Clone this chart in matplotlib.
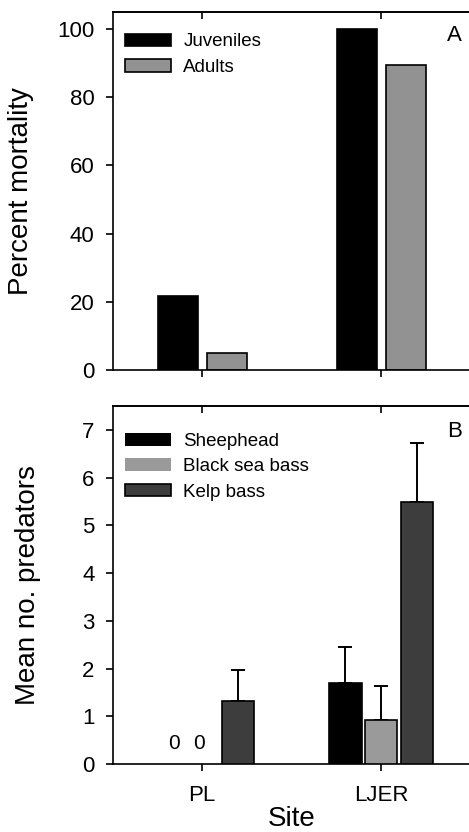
import matplotlib
matplotlib.use("Agg")
import matplotlib.pyplot as plt
import numpy as np

plt.rcParams['font.family'] = ['Liberation Sans', 'DejaVu Sans']

sites = ["PL", "LJER"]

# panel A
stages = ["Juveniles", "Adults"]
mortality = [[21.7, 100.0], [5.0, 89.4]]

# panel B
predators = ["Sheephead", "Black sea bass", "Kelp bass"]
pred_mean = [[0.0, 1.70], [0.0, 0.92], [1.32, 5.49]]
pred_se = [[0.0, 0.75], [0.0, 0.71], [0.65, 1.24]]

colors_a = ["#000000", "#929292"]
colors_b = ["#000000", "#9a9a9a", "#3d3d3d"]


def style_axes(ax, yticks):
    for s in ax.spines.values():
        s.set_linewidth(1.2)
    ax.set_xlim(-0.5, 1.5)
    ax.set_xticks(range(len(sites)))
    ax.set_yticks(yticks)
    ax.tick_params(axis='both', direction='out', length=5, width=1.2, labelsize=16)
    ax.tick_params(axis='y', pad=8)
    top = ax.secondary_xaxis('top')
    top.set_xticks(range(len(sites)))
    top.tick_params(direction='in', length=5, width=1.2, labeltop=False)
    top.spines['top'].set_linewidth(1.2)


def legend(ax, y):
    ax.legend(loc='upper left', bbox_to_anchor=(0.035, y), frameon=False, fontsize=13.5,
              handlelength=2.45, handleheight=0.65, handletextpad=0.65, labelspacing=0.45,
              borderpad=0, borderaxespad=0)


fig = plt.figure(figsize=(4.69, 8.32), dpi=100)
ax1 = fig.add_axes([0.24, 0.5553, 0.764, 0.4303])
ax2 = fig.add_axes([0.24, 0.0817, 0.764, 0.4303])

x = np.arange(len(sites))

# --- panel A
w = 0.224
offs = [-0.137, 0.137]
for i, lab in enumerate(stages):
    ax1.bar(x + offs[i], mortality[i], w, color=colors_a[i], edgecolor='black',
            linewidth=1.2, label=lab)
ax1.set_ylim(0, 105)
style_axes(ax1, [0, 20, 40, 60, 80, 100])
ax1.set_xticklabels([])
ax1.set_ylabel("Percent mortality", fontsize=20)
ax1.yaxis.set_label_coords(-0.218, 0.5)
ax1.text(0.934, 0.964, "A", transform=ax1.transAxes, fontsize=16, va='top', ha='left')
legend(ax1, 0.94)

# --- panel B
w = 0.18
offs = [-0.2, 0.0, 0.2]
zero_nudge = [0.045, -0.017, 0.0]
for i, lab in enumerate(predators):
    lw = [1.2 if v > 0 else 0 for v in pred_mean[i]]
    ax2.bar(x + offs[i], pred_mean[i], w, color=colors_b[i], edgecolor='black',
            linewidth=lw, label=lab, zorder=3)
    for j in range(len(sites)):
        if pred_se[i][j] > 0:
            ax2.errorbar(x[j] + offs[i], pred_mean[i][j], yerr=[[0], [pred_se[i][j]]],
                         fmt='none', ecolor='black', elinewidth=1.4, capsize=5,
                         capthick=1.4, zorder=2)
        else:
            ax2.text(x[j] + offs[i] + zero_nudge[i], 0.44, "0", fontsize=15,
                     ha='center', va='center')
ax2.set_ylim(0, 7.5)
style_axes(ax2, range(8))
ax2.set_xticklabels(sites)
ax2.tick_params(axis='x', pad=10)
ax2.set_ylabel("Mean no. predators", fontsize=20)
ax2.yaxis.set_label_coords(-0.2, 0.5)
ax2.set_xlabel("Site", fontsize=20, labelpad=0)
ax2.text(0.934, 0.957, "B", transform=ax2.transAxes, fontsize=16, va='top', ha='left')
legend(ax2, 0.925)

fig.savefig("out.png", dpi=100)
